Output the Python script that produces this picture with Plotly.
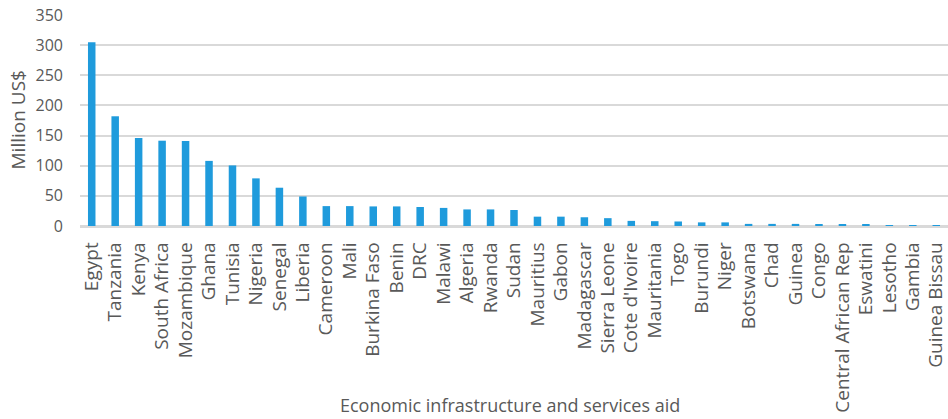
import plotly.graph_objects as go

countries = [
    "Egypt", "Tanzania", "Kenya", "South Africa", "Mozambique", "Ghana", "Tunisia",
    "Nigeria", "Senegal", "Liberia", "Cameroon", "Mali", "Burkina Faso", "Benin",
    "DRC", "Malawi", "Algeria", "Rwanda", "Sudan", "Mauritius", "Gabon",
    "Madagascar", "Sierra Leone", "Cote d'Ivoire", "Mauritania", "Togo", "Burundi",
    "Niger", "Botswana", "Chad", "Guinea", "Congo", "Central African Rep",
    "Eswatini", "Lesotho", "Gambia", "Guinea Bissau",
]
aid_musd = [
    305, 182, 146, 141.5, 141, 108, 100.5,
    79, 63.5, 49, 33, 33, 32.5, 32.5,
    31.5, 30, 27.5, 27.5, 26.5, 15.5, 15.5,
    14.5, 13, 8.5, 8, 7.5, 6,
    6, 3.5, 3.5, 3.5, 3, 2.5,
    2, 0.5, 0.2, 0.1,
]
y_ticks = [0, 50, 100, 150, 200, 250, 300, 350]

TEXT = "#595959"
GRID = "#D9D9D9"
FONT = "Open Sans"

fig = go.Figure(
    go.Bar(
        x=countries,
        y=aid_musd,
        marker=dict(color="#1F9BDC", line=dict(width=0)),
    )
)

fig.update_layout(
    width=948,
    height=419,
    margin=dict(l=80, r=0, t=15, b=193),
    paper_bgcolor="white",
    plot_bgcolor="white",
    bargap=0.68,
    showlegend=False,
    font=dict(family=FONT, color=TEXT, size=16),
    annotations=[
        dict(
            text="Economic infrastructure and services aid",
            xref="paper", yref="paper",
            x=(510 - 80) / 868, y=-(405 - 226) / 211,
            xanchor="center", yanchor="middle",
            showarrow=False,
            font=dict(family=FONT, color=TEXT, size=18),
        ),
        dict(
            text="Million US$",
            xref="paper", yref="paper",
            x=-(80 - 17.5) / 868, y=(226 - 120) / 211,
            xanchor="center", yanchor="middle",
            textangle=-90,
            showarrow=False,
            font=dict(family=FONT, color=TEXT, size=19),
        ),
    ],
)

fig.update_xaxes(
    type="category",
    tickangle=-90,
    tickfont=dict(family=FONT, color=TEXT, size=19),
    showgrid=False,
    showline=True,
    linecolor=GRID,
    linewidth=1.5,
    ticks="",
    ticklabelstandoff=7,
    automargin=False,
)
fig.update_yaxes(
    range=[0, 350],
    tickvals=y_ticks,
    tickfont=dict(family=FONT, color=TEXT, size=16),
    showgrid=True,
    gridcolor=GRID,
    gridwidth=1.5,
    zeroline=True,
    zerolinecolor=GRID,
    zerolinewidth=1.5,
    showline=False,
    ticks="",
    ticklabelstandoff=16,
    automargin=False,
)

fig.write_html("out.html")
